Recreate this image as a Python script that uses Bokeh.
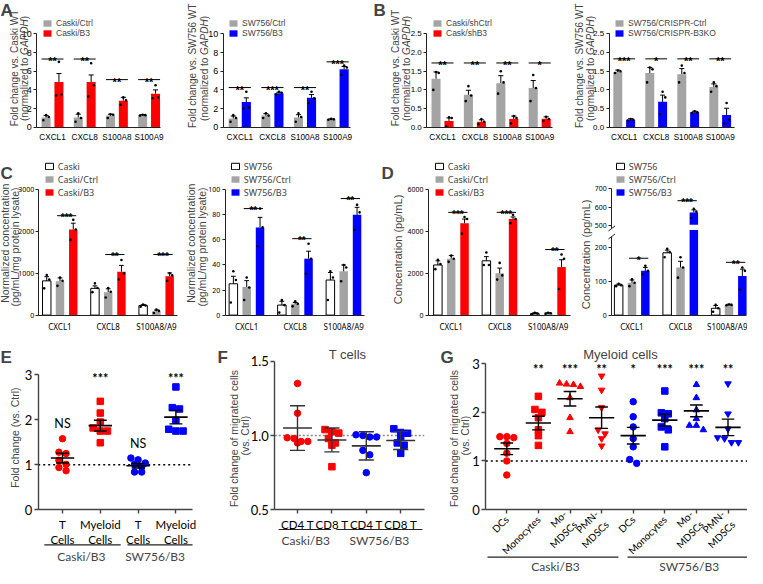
import math
import numpy as np
from bokeh.plotting import figure
from bokeh.layouts import row, column
from bokeh.models import FixedTicker, Label, Legend, LegendItem, Arrow, BoxAnnotation
from bokeh.embed import file_html
from bokeh.resources import INLINE
from bokeh.core.properties import value

# ======================= DATA =======================
A1_CATS = ["CXCL1", "CXCL8", "S100A8", "S100A9"]
A1_CTRL = [1.05, 1.05, 1.25, 1.30]
A1_CTRL_ERR = [0.20, 0.35, 0.15, 0.05]
A1_CTRL_PTS = [[0.75, 1.10, 1.30], [0.60, 1.00, 1.50], [1.00, 1.35, 1.40], [1.25, 1.30, 1.35]]
A1_B3 = [4.85, 4.85, 2.85, 3.60]
A1_B3_ERR = [0.90, 0.75, 0.35, 0.40]
A1_B3_PTS = [[3.40, 3.50, 7.00], [3.30, 4.50, 6.85], [2.40, 2.90, 3.20], [3.10, 3.20, 4.50]]
A1_SIG = ["**", "**", "**", "**"]
A1_SIG_Y = [7.3, 7.3, 5.1, 5.1]

A2_CTRL = [0.95, 1.25, 1.05, 0.85]
A2_CTRL_ERR = [0.25, 0.20, 0.30, 0.05]
A2_CTRL_PTS = [[0.60, 1.00, 1.30], [1.00, 1.25, 1.50], [0.60, 1.10, 1.50], [0.80, 0.85, 0.90]]
A2_B3 = [2.70, 3.65, 3.15, 6.20]
A2_B3_ERR = [0.45, 0.10, 0.35, 0.30]
A2_B3_PTS = [[2.00, 2.10, 3.80], [3.50, 3.70, 3.80], [2.60, 3.10, 3.80], [5.60, 6.40, 6.60]]
A2_SIG = ["**", "***", "**", "***"]
A2_SIG_Y = [4.25, 4.25, 4.25, 7.0]

B1_CTRL = [1.30, 0.87, 1.18, 1.05]
B1_CTRL_ERR = [0.18, 0.12, 0.20, 0.20]
B1_CTRL_PTS = [[1.00, 1.45, 1.48], [0.70, 0.85, 1.10], [0.90, 1.20, 1.50], [0.70, 1.05, 1.40]]
B1_SH = [0.17, 0.15, 0.22, 0.23]
B1_SH_ERR = [0.08, 0.05, 0.08, 0.05]
B1_SH_PTS = [[0.02, 0.25, 0.27], [0.08, 0.15, 0.22], [0.10, 0.25, 0.30], [0.17, 0.22, 0.28]]
B1_SIG = ["**", "**", "**", "*"]
B1_SIG_Y = [1.72, 1.72, 1.72, 1.72]

B2_CTRL = [1.48, 1.45, 1.42, 1.08]
B2_CTRL_ERR = [0.05, 0.15, 0.15, 0.08]
B2_CTRL_PTS = [[1.45, 1.50, 1.52], [1.20, 1.55, 1.60], [1.20, 1.45, 1.65], [0.95, 1.10, 1.20]]
B2_KO = [0.20, 0.68, 0.40, 0.33]
B2_KO_ERR = [0.03, 0.18, 0.03, 0.18]
B2_KO_PTS = [[0.18, 0.20, 0.22], [0.35, 0.80, 0.95], [0.38, 0.40, 0.43], [0.10, 0.20, 0.65]]
B2_SIG = ["***", "*", "**", "**"]
B2_SIG_Y = [1.83, 1.83, 1.83, 1.83]

CD_CATS = ["CXCL1", "CXCL8", "S100A8/A9"]

C1_WT = [820, 640, 230]
C1_WT_ERR = [100, 60, 20]
C1_WT_PTS = [[640, 850, 960], [550, 650, 760], [200, 230, 250]]
C1_CTRL = [810, 550, 90]
C1_CTRL_ERR = [80, 80, 30]
C1_CTRL_PTS = [[700, 820, 900], [420, 560, 650], [50, 100, 130]]
C1_B3 = [2050, 1040, 930]
C1_B3_ERR = [150, 150, 80]
C1_B3_PTS = [[1800, 2050, 2280], [850, 1000, 1320], [820, 950, 1000]]
C1_SIG = ["***", "**", "***"]
C1_SIG_Y = [2380, 1450, 1450]

C2_WT = [25, 8, 28]
C2_WT_ERR = [6, 3, 6]
C2_WT_PTS = [[10, 28, 35], [2, 8, 12], [12, 30, 35]]
C2_CTRL = [22.5, 9, 35]
C2_CTRL_ERR = [5, 1, 5]
C2_CTRL_PTS = [[12, 22, 30], [7, 9, 11], [27, 38, 40]]
C2_B3 = [70, 45, 80]
C2_B3_ERR = [8, 6, 6]
C2_B3_PTS = [[55, 70, 85], [33, 45, 57], [68, 82, 88]]
C2_SIG = ["**", "**", "**"]
C2_SIG_Y = [85, 61, 93]

D1_WT = [2400, 2600, 80]
D1_WT_ERR = [200, 200, 30]
D1_WT_PTS = [[2200, 2450, 2650], [2400, 2400, 3000], [50, 80, 110]]
D1_CTRL = [2700, 2000, 90]
D1_CTRL_ERR = [150, 250, 20]
D1_CTRL_PTS = [[2550, 2700, 2850], [1700, 1900, 2500], [70, 90, 110]]
D1_B3 = [4400, 4600, 2300]
D1_B3_ERR = [200, 100, 350]
D1_B3_PTS = [[3900, 4600, 4700], [4400, 4600, 4800], [1250, 2700, 2900]]
D1_SIG = ["***", "***", "**"]
D1_SIG_Y = [4920, 4920, 3140]

D2_WT = [88, 183, 20]
D2_WT_ERR = [3, 8, 8]
D2_WT_PTS = [[85, 88, 92], [170, 185, 195], [10, 20, 30]]
D2_CTRL = [95, 140, 30]
D2_CTRL_ERR = [8, 18, 2]
D2_CTRL_PTS = [[85, 95, 105], [110, 140, 170], [29, 30, 31]]
D2_B3 = [130, 570, 115]
D2_B3_ERR = [10, 15, 20]
D2_B3_PTS = [[120, 130, 145], [540, 575, 590], [75, 130, 140]]
D2_SIG = ["*", "***", "**"]
D2_SIG_Y = [167, 635, 155]
D2_TICKS = [0, 100, 200, 500, 600, 700]

E_CATS = ["T\nCells", "Myeloid\nCells", "T\nCells", "Myeloid\nCells"]
E_PTS = [[1.58, 1.28, 1.25, 1.10, 1.01, 0.94, 0.87],
         [2.41, 2.15, 1.95, 1.82, 1.75, 1.75, 1.49],
         [1.15, 1.11, 1.04, 1.01, 0.95, 0.84, 0.84],
         [2.73, 2.27, 2.24, 1.99, 1.79, 1.75, 1.75]]
E_MEAN = [1.15, 1.87, 0.98, 2.06]
E_ERR = [0.11, 0.12, 0.05, 0.15]
E_SIG = ["NS", "***", "NS", "***"]
E_SIG_Y = [1.91, 2.91, 1.47, 2.91]
E_GROUPS = ["Caski/B3", "SW756/B3"]

F_CATS = ["CD4 T", "CD8 T", "CD4 T", "CD8 T"]
F_PTS = [[1.35, 1.15, 0.985, 0.98, 0.96, 0.96, 0.95],
         [1.04, 1.025, 1.016, 0.98, 0.95, 0.935, 0.79],
         [1.005, 1.0, 0.99, 0.99, 0.90, 0.87, 0.75],
         [1.045, 1.02, 1.015, 0.99, 0.95, 0.935, 0.88]]
F_MEAN = [1.05, 0.97, 0.93, 0.966]
F_ERR = [0.15, 0.08, 0.095, 0.06]
F_GROUPS = ["Caski/B3", "SW756/B3"]
F_TICKS = [0.5, 1.0, 1.5]
F_TICK_LABELS = ["0.5", "1.0", "1.5"]

G_CATS = ["DCs", "Monocytes", "Mo-\nMDSCs", "PMN-\nMDSCs", "DCs", "Monocytes", "Mo-\nMDSCs", "PMN-\nMDSCs"]
G_PTS = [[1.50, 1.50, 1.48, 1.36, 1.16, 1.00, 0.71],
         [2.33, 2.06, 2.00, 1.89, 1.64, 1.52, 1.32],
         [2.60, 2.58, 2.57, 2.53, 2.30, 1.89, 1.60],
         [2.75, 2.46, 2.10, 1.64, 1.56, 1.46, 1.31],
         [2.22, 1.91, 1.70, 1.46, 1.29, 1.03, 0.95],
         [2.44, 1.99, 1.97, 1.87, 1.70, 1.64, 1.29],
         [2.57, 2.30, 2.05, 1.87, 1.73, 1.73, 1.64],
         [2.59, 1.97, 1.66, 1.48, 1.46, 1.38, 1.38]]
G_MEAN = [1.25, 1.78, 2.28, 1.89, 1.52, 1.84, 2.03, 1.69]
G_ERR = [0.12, 0.14, 0.15, 0.22, 0.17, 0.12, 0.12, 0.17]
G_SIG = ["", "**", "***", "**", "*", "***", "***", "**"]
G_SIG_Y = [2.88] * 8
G_GROUPS = ["Caski/B3", "SW756/B3"]

# ======================= STYLE / GEOMETRY =======================
GRAY = "#a4a4a4"
RED = "#ff0000"
BLUE = "#0000ff"
ARIAL = "Liberation Sans"
CAL = "Lato"
MYR = "Noto Sans"

# Arial advance widths (1/1000 em) for the characters used in composed labels
AW = {" ": 278, "(": 333, ")": 333, "a": 556, "d": 556, "e": 556, "i": 222, "l": 222,
      "m": 833, "n": 556, "o": 556, "r": 333, "t": 278, "z": 500, "G": 778, "A": 667,
      "P": 667, "D": 722, "H": 722}


def text_w(s, size):
    return sum(AW.get(c, 556) for c in s) * size / 1000.0


def geo(left, top, right, bottom, c0, s, y0r, y0v, pxu, axis_x, x_end, ymax):
    return dict(left=left, top=top, right=right, bottom=bottom, c0=c0, s=s, y0r=y0r,
                y0v=y0v, pxu=pxu, axis_x=axis_x, x_end=x_end, ymax=ymax)


def DX(g, rx):
    return (rx - g["c0"]) / g["s"]


def DY(g, ry):
    return g["y0v"] + (g["y0r"] - ry) / g["pxu"]


def make_fig(g):
    p = figure(width=g["right"] - g["left"], height=g["bottom"] - g["top"],
               x_range=(DX(g, g["left"]), DX(g, g["right"])),
               y_range=(DY(g, g["bottom"]), DY(g, g["top"])),
               output_backend="svg", toolbar_location=None, title_location=None,
               min_border_left=0, min_border_right=0, min_border_top=0, min_border_bottom=0)
    p.xgrid.visible = False
    p.ygrid.visible = False
    p.outline_line_color = None
    p.yaxis.fixed_location = DX(g, g["axis_x"])
    p.xaxis.fixed_location = g["y0v"]
    p.yaxis.bounds = (g["y0v"], g["ymax"])
    p.xaxis.bounds = (DX(g, g["axis_x"]), DX(g, g["x_end"]))
    return p


def style_axes(p, color, lw, tfont, tsize, tick_out=3):
    for ax in (p.xaxis[0], p.yaxis[0]):
        ax.axis_line_color = color
        ax.axis_line_width = lw
        ax.major_tick_line_color = color
        ax.major_tick_line_width = lw
        ax.minor_tick_line_color = None
        ax.major_tick_in = 0
        ax.major_tick_out = tick_out
        ax.major_label_text_font = tfont
        ax.major_label_text_font_size = tsize
        ax.major_label_text_color = "black"
        ax.major_label_standoff = 2


def letter(p, g, txt, rx, ry):
    p.add_layout(Label(x=DX(g, rx), y=DY(g, ry), text=txt, text_font=ARIAL, text_font_size="17px",
                       text_font_style="bold", text_baseline="top", text_align="left"))


def ylab(p, g, parts, rx, ry_center, size):
    """Vertical axis title line made of (text, style) parts, centred on page y ry_center."""
    total = sum(text_w(t, size) for t, _ in parts)
    start = ry_center + total / 2.0
    for t, style in parts:
        p.add_layout(Label(x=DX(g, rx), y=DY(g, start), text=t, angle=math.pi / 2,
                           text_align="left", text_baseline="middle", text_font=ARIAL,
                           text_font_size="%spx" % size, text_font_style=style))
        start -= text_w(t, size)


def gapdh_labels(p, g, first, x1, x2, yc, size=10):
    ylab(p, g, [(first, "normal")], x1, yc, size)
    ylab(p, g, [("(normalized to ", "normal"), ("GAPDH", "italic"), (")", "normal")], x2, yc, size)


DOT_JIT = [-0.3, 0.3, 0.0]


def bar_panel(g, cats, series, offs, bw, yticks, sig, leg_box, leg_cfg,
              xfont, xsize, tfont, tsize, star_size, ext, ytf=None,
              ytick_labels=None, split=None):
    f = ytf or (lambda v: v)
    p = make_fig(g)
    rends = []
    for j, s in enumerate(series):
        xs = [i + offs[j] for i in range(len(cats))]
        tops = [f(v) for v in s["vals"]]
        L, R, B, T = [], [], [], []
        for x, t in zip(xs, tops):
            if split is not None and t > split[1]:
                L += [x - bw / 2] * 2
                R += [x + bw / 2] * 2
                B += [0, split[1]]
                T += [split[0], t]
            else:
                L.append(x - bw / 2)
                R.append(x + bw / 2)
                B.append(0)
                T.append(t)
        r = p.quad(left=L, right=R, bottom=B, top=T, fill_color=s["fill"],
                   line_color=s["line"], line_width=1)
        rends.append(r)
        etop = [f(v + e) for v, e in zip(s["vals"], s["errs"])]
        p.segment(x0=xs, y0=tops, x1=xs, y1=etop, line_color="black", line_width=1)
        p.segment(x0=[x - bw * 0.28 for x in xs], y0=etop, x1=[x + bw * 0.28 for x in xs],
                  y1=etop, line_color="black", line_width=1)
        px, py = [], []
        for i, pts in enumerate(s["pts"]):
            for k, v in enumerate(pts):
                px.append(xs[i] + DOT_JIT[k] * bw)
                py.append(f(v))
        p.scatter(px, py, size=2.6, color="black", line_color=None)
    sx0, sx1, sy, tx, ttxt = [], [], [], [], []
    for (i, a, b, yv, txt) in sig:
        x0 = i + offs[a] - bw * ext
        x1 = i + offs[b] + bw * ext
        sx0.append(x0)
        sx1.append(x1)
        sy.append(f(yv))
        tx.append((x0 + x1) / 2)
        ttxt.append(txt)
    p.segment(x0=sx0, y0=sy, x1=sx1, y1=sy, line_color="black", line_width=1)
    p.text(x=tx, y=sy, text=ttxt, text_align="center", text_baseline="alphabetic",
           text_font=value(ARIAL), text_font_size=value(star_size), text_font_style="bold",
           y_offset=2, text_color="black")
    p.xaxis.ticker = FixedTicker(ticks=list(range(len(cats))))
    p.xaxis.major_label_overrides = {i: c for i, c in enumerate(cats)}
    p.yaxis.ticker = FixedTicker(ticks=[f(v) for v in yticks])
    if ytick_labels is not None:
        p.yaxis.major_label_overrides = {f(v): l for v, l in zip(yticks, ytick_labels)}
    style_axes(p, "#222222", 1, tfont, tsize)
    p.xaxis.major_tick_line_color = None
    p.xaxis.major_label_text_font = xfont
    p.xaxis.major_label_text_font_size = xsize
    p.xaxis.major_label_standoff = 3
    pitch, gh, lf, ls = leg_cfg
    n = len(series)
    leg_top = leg_box[1] - (pitch - gh) / 2
    leg_bottom = leg_top + n * pitch
    leg = Legend(items=[LegendItem(label=value(s["name"]), renderers=[r]) for s, r in zip(series, rends)],
                 location=(leg_box[0] - g["left"], g["bottom"] - leg_bottom),
                 orientation="vertical", glyph_width=10, glyph_height=gh,
                 label_height=pitch, spacing=0, padding=0, margin=0, label_standoff=4,
                 border_line_color=None, background_fill_alpha=0,
                 label_text_font=lf, label_text_font_size=ls, label_text_baseline="middle")
    p.add_layout(leg)
    return p


def swarm(vals, tol, step):
    order = list(np.argsort(vals)[::-1])
    offs = [0.0] * len(vals)
    groups = []
    for i in order:
        if groups and abs(vals[groups[-1][0]] - vals[i]) < tol and len(groups[-1]) < 4:
            groups[-1].append(i)
        else:
            groups.append([i])
    for grp in groups:
        n = len(grp)
        for k, i in enumerate(grp):
            offs[i] = (k - (n - 1) / 2) * step
    return offs


def dot_panel(g, cats, pts, means, errs, markers, colors, yticks,
              tol, step, hw, cw, mean_color, ref_color, ref_dash, msize=6.5, ytick_labels=None):
    p = make_fig(g)
    p.segment(x0=[DX(g, g["axis_x"])], y0=[1], x1=[DX(g, g["x_end"])], y1=[1],
              line_color=ref_color, line_dash=ref_dash, line_width=1.5)
    for i, vals in enumerate(pts):
        o = swarm(vals, tol, step)
        p.scatter([i + d for d in o], vals, marker=markers[i], size=msize,
                  fill_color=colors[i], line_color=colors[i])
    xs = list(range(len(cats)))
    p.segment(x0=[x - hw for x in xs], y0=means, x1=[x + hw for x in xs], y1=means,
              line_color=mean_color, line_width=1.6)
    up = [m + e for m, e in zip(means, errs)]
    dn = [m - e for m, e in zip(means, errs)]
    p.segment(x0=xs, y0=dn, x1=xs, y1=up, line_color=mean_color, line_width=1.4)
    p.segment(x0=[x - cw for x in xs], y0=up, x1=[x + cw for x in xs], y1=up,
              line_color=mean_color, line_width=1.4)
    p.segment(x0=[x - cw for x in xs], y0=dn, x1=[x + cw for x in xs], y1=dn,
              line_color=mean_color, line_width=1.4)
    p.xaxis.ticker = FixedTicker(ticks=xs)
    p.xaxis.major_label_overrides = {i: c for i, c in enumerate(cats)}
    p.yaxis.ticker = FixedTicker(ticks=yticks)
    if ytick_labels is not None:
        p.yaxis.major_label_overrides = {v: l for v, l in zip(yticks, ytick_labels)}
    style_axes(p, "#444444", 1.4, CAL, "13px", tick_out=4)
    p.xaxis.major_label_text_font_size = "11.5px"
    p.xaxis.major_label_standoff = 4
    return p


def group_marks(p, g, spans, labels, line_ry, label_ry, size="12px"):
    ly = DY(g, line_ry)
    ty = DY(g, label_ry)
    for (x0, x1), (lab, cx) in zip(spans, labels):
        p.add_layout(Arrow(x_start=x0, y_start=ly, x_end=x1, y_end=ly, start=None, end=None,
                           line_color="#222222", line_width=1.2))
        p.add_layout(Label(x=cx, y=ty, text=lab, text_align="center", text_baseline="middle",
                           text_font=CAL, text_font_size=size))


def sig_list(ys, txts, a, b):
    return [(i, a, b, y, t) for i, (y, t) in enumerate(zip(ys, txts))]


# ======================= ROW 1 =======================
AB_OFFS = [-0.2, 0.2]
AB_BW = 0.28
LEG_AB = (10, 8, ARIAL, "8.5px")

G_A1 = geo(8, 0, 186, 150, 60.0, 32.2, 126.8, 0.0, 9.35, 44.3, 168.0, 10)
G_A2 = geo(186, 0, 380, 150, 247.3, 32.6, 126.8, 0.0, 9.35, 230.7, 358.0, 10)
G_B1 = geo(380, 0, 578, 150, 450.0, 32.4, 126.8, 0.0, 37.4, 434.3, 560.0, 2.5)
G_B2 = geo(578, 0, 755, 150, 631.7, 32.0, 126.8, 0.0, 37.4, 616.7, 741.7, 2.5)

a1 = bar_panel(G_A1, A1_CATS,
               [dict(name="Caski/Ctrl", vals=A1_CTRL, errs=A1_CTRL_ERR, pts=A1_CTRL_PTS, fill=GRAY, line=None),
                dict(name="Caski/B3", vals=A1_B3, errs=A1_B3_ERR, pts=A1_B3_PTS, fill=RED, line=None)],
               AB_OFFS, AB_BW, [0, 2, 4, 6, 8, 10],
               sig_list(A1_SIG_Y, A1_SIG, 0, 1), (50, 19.3), LEG_AB, ARIAL, "8.2px", ARIAL, "9px", "11px", 0.5)
gapdh_labels(a1, G_A1, "Fold change vs. Caski WT", 21.5, 32.0, 68)
letter(a1, G_A1, "A", 8, 0)

a2 = bar_panel(G_A2, A1_CATS,
               [dict(name="SW756/Ctrl", vals=A2_CTRL, errs=A2_CTRL_ERR, pts=A2_CTRL_PTS, fill=GRAY, line=None),
                dict(name="SW756/B3", vals=A2_B3, errs=A2_B3_ERR, pts=A2_B3_PTS, fill=BLUE, line=None)],
               AB_OFFS, AB_BW, [0, 2, 4, 6, 8, 10],
               sig_list(A2_SIG_Y, A2_SIG, 0, 1), (236, 19.3), LEG_AB, ARIAL, "8.2px", ARIAL, "9px", "11px", 0.5)
gapdh_labels(a2, G_A2, "Fold change vs. SW756 WT", 200.0, 212.0, 68)

B_TICKS = [0, 0.5, 1.0, 1.5, 2.0, 2.5]
B_TICK_LABELS = ["0.0", "0.5", "1.0", "1.5", "2.0", "2.5"]
b1 = bar_panel(G_B1, A1_CATS,
               [dict(name="Caski/shCtrl", vals=B1_CTRL, errs=B1_CTRL_ERR, pts=B1_CTRL_PTS, fill=GRAY, line=None),
                dict(name="Cask/shB3", vals=B1_SH, errs=B1_SH_ERR, pts=B1_SH_PTS, fill=RED, line=None)],
               AB_OFFS, AB_BW, B_TICKS,
               sig_list(B1_SIG_Y, B1_SIG, 0, 1), (440, 19.3), LEG_AB, ARIAL, "8.2px", ARIAL, "8px", "11px", 0.5,
               ytick_labels=B_TICK_LABELS)
gapdh_labels(b1, G_B1, "Fold change vs. Caski WT", 403.0, 414.0, 68)
letter(b1, G_B1, "B", 381, 0)

b2 = bar_panel(G_B2, A1_CATS,
               [dict(name="SW756/CRISPR-Ctrl", vals=B2_CTRL, errs=B2_CTRL_ERR, pts=B2_CTRL_PTS, fill=GRAY, line=None),
                dict(name="SW756/CRISPR-B3KO", vals=B2_KO, errs=B2_KO_ERR, pts=B2_KO_PTS, fill=BLUE, line=None)],
               AB_OFFS, AB_BW, B_TICKS,
               sig_list(B2_SIG_Y, B2_SIG, 0, 1), (622, 19.3), LEG_AB, ARIAL, "8.2px", ARIAL, "8px", "11px", 0.5,
               ytick_labels=B_TICK_LABELS)
gapdh_labels(b2, G_B2, "Fold change vs. SW756 WT", 586.5, 597.5, 68)

# ======================= ROW 2 =======================
CD_OFFS = [-0.275, 0.0, 0.275]
CD_BW = 0.175
LEG_CD = (11, 8, MYR, "9px")

G_C1 = geo(8, 150, 191, 335, 67.5, 48.2, 314.6, 0.0, 125.3 / 3000, 45.7, 185.0, 3000)
G_C2 = geo(191, 150, 388, 335, 254.2, 48.5, 314.6, 0.0, 125.3 / 100, 232.7, 372.0, 100)
G_D1 = geo(388, 150, 580, 335, 458.7, 48.5, 314.6, 0.0, 125.3 / 6000, 436.0, 578.0, 6000)

c1 = bar_panel(G_C1, CD_CATS,
               [dict(name="Caski", vals=C1_WT, errs=C1_WT_ERR, pts=C1_WT_PTS, fill="white", line="black"),
                dict(name="Caski/Ctrl", vals=C1_CTRL, errs=C1_CTRL_ERR, pts=C1_CTRL_PTS, fill=GRAY, line=None),
                dict(name="Caski/B3", vals=C1_B3, errs=C1_B3_ERR, pts=C1_B3_PTS, fill=RED, line=None)],
               CD_OFFS, CD_BW, [0, 1000, 2000, 3000],
               sig_list(C1_SIG_Y, C1_SIG, 1, 2), (51.7, 167.3), LEG_CD, MYR, "8px", MYR, "7px", "10px", 0.35)
c1.yaxis.major_label_standoff = 1
ylab(c1, G_C1, [("Normalized concentration", "normal")], 12.5, 243, 10.5)
ylab(c1, G_C1, [("(pg/mL/mg protein lysate)", "normal")], 22.5, 243, 10.5)
letter(c1, G_C1, "C", 8, 163)

c2 = bar_panel(G_C2, CD_CATS,
               [dict(name="SW756", vals=C2_WT, errs=C2_WT_ERR, pts=C2_WT_PTS, fill="white", line="black"),
                dict(name="SW756/Ctrl", vals=C2_CTRL, errs=C2_CTRL_ERR, pts=C2_CTRL_PTS, fill=GRAY, line=None),
                dict(name="SW756/B3", vals=C2_B3, errs=C2_B3_ERR, pts=C2_B3_PTS, fill=BLUE, line=None)],
               CD_OFFS, CD_BW, [0, 20, 40, 60, 80, 100],
               sig_list(C2_SIG_Y, C2_SIG, 1, 2), (237.7, 167.3), LEG_CD, MYR, "8px", MYR, "7px", "10px", 0.35)
ylab(c2, G_C2, [("Normalized concentration", "normal")], 198.0, 243, 10.5)
ylab(c2, G_C2, [("(pg/mL/mg protein lysate)", "normal")], 209.5, 243, 10.5)

d1 = bar_panel(G_D1, CD_CATS,
               [dict(name="Caski", vals=D1_WT, errs=D1_WT_ERR, pts=D1_WT_PTS, fill="white", line="black"),
                dict(name="Caski/Ctrl", vals=D1_CTRL, errs=D1_CTRL_ERR, pts=D1_CTRL_PTS, fill=GRAY, line=None),
                dict(name="Caski/B3", vals=D1_B3, errs=D1_B3_ERR, pts=D1_B3_PTS, fill=RED, line=None)],
               CD_OFFS, CD_BW, [0, 2000, 4000, 6000],
               sig_list(D1_SIG_Y, D1_SIG, 1, 2), (441.7, 167.3), LEG_CD, MYR, "8px", MYR, "7px", "10px", 0.35)
ylab(d1, G_D1, [("Concentration (pg/mL)", "normal")], 405.5, 248, 11)
letter(d1, G_D1, "D", 389, 163)

# broken axis for the right D panel (lower segment 0-200, upper 500-700)
BRK_GAP = 63.5
BRK_K = 0.537


def d2_tf(v):
    if v <= 200:
        return v
    return 200 + BRK_GAP + (v - 500) * BRK_K


G_D2 = geo(580, 150, 755, 335, 639.5, 48.5, 314.6, 0.0, 0.3405, 619.3, 754.0, d2_tf(700))
d2 = bar_panel(G_D2, CD_CATS,
               [dict(name="SW756", vals=D2_WT, errs=D2_WT_ERR, pts=D2_WT_PTS, fill="white", line="black"),
                dict(name="SW756/Ctrl", vals=D2_CTRL, errs=D2_CTRL_ERR, pts=D2_CTRL_PTS, fill=GRAY, line=None),
                dict(name="SW756/B3", vals=D2_B3, errs=D2_B3_ERR, pts=D2_B3_PTS, fill=BLUE, line=None)],
               CD_OFFS, CD_BW, D2_TICKS,
               sig_list(D2_SIG_Y, D2_SIG, 1, 2), (622.7, 167.3), LEG_CD, MYR, "8px", MYR, "7px", "10px", 0.35,
               ytf=d2_tf, ytick_labels=[str(t) for t in D2_TICKS], split=(250.0, 265.0))
ylab(d2, G_D2, [("Concentration (pg/mL)", "normal")], 593.0, 253, 11)
d2.add_layout(BoxAnnotation(left=DX(G_D2, 616), right=DX(G_D2, 623), bottom=DY(G_D2, 236),
                            top=DY(G_D2, 228), fill_color="white", fill_alpha=1, line_color=None,
                            level="overlay"))
for yy in (228, 236):
    d2.add_layout(Arrow(x_start=DX(G_D2, 616), y_start=DY(G_D2, yy + 2.5), x_end=DX(G_D2, 622.5),
                        y_end=DY(G_D2, yy - 2.5), start=None, end=None, line_color="#222222",
                        line_width=1, level="overlay"))

# ======================= ROW 3 =======================
G_E = geo(8, 335, 220, 584, 70.0, 37.8, 509.3, 0.0, 45.0, 45.7, 200.0, 3)
G_F = geo(220, 335, 444, 584, 305.0, 34.4, 509.3, 0.5, 148.6, 282.3, 431.7, 1.5)
G_G = geo(444, 335, 755, 584, 514.3, 31.6, 509.0, 0.0, 48.57, 493.3, 755.0, 3)

e = dot_panel(G_E, E_CATS, E_PTS, E_MEAN, E_ERR,
              ["circle", "square", "circle", "square"], [RED, RED, BLUE, BLUE], [0, 1, 2, 3],
              0.12, 0.19, 0.31, 0.17, "black", "black", "2 3")
e.text(x=list(range(4)), y=E_SIG_Y, text=E_SIG, text_align="center", text_baseline="middle",
       text_font=value(CAL), text_font_size=value("12.5px"),
       text_font_style=["normal", "bold", "normal", "bold"], text_color="black")
group_marks(e, G_E, [(-0.48, 1.54), (1.72, 3.44)], [(E_GROUPS[0], 0.5), (E_GROUPS[1], 2.45)], 544.3, 556.0)
ylab(e, G_E, [("Fold change (vs. Ctrl)", "normal")], 22.5, 436, 10.5)
letter(e, G_E, "E", 8, 347)

f = dot_panel(G_F, F_CATS, F_PTS, F_MEAN, F_ERR,
              ["circle", "square", "circle", "square"], [RED, RED, BLUE, BLUE], F_TICKS,
              0.035, 0.2, 0.42, 0.22, "#333333", "#888888", "2 2", ytick_labels=F_TICK_LABELS)
group_marks(f, G_F, [(-0.55, 0.97), (1.13, 3.63)], [(F_GROUPS[0], 0.24), (F_GROUPS[1], 2.38)], 529.0, 540.0)
ylab(f, G_F, [("Fold change of migrated cells", "normal")], 241.0, 436, 10.5)
ylab(f, G_F, [("(vs. Ctrl)", "normal")], 252.5, 434, 10.5)
letter(f, G_F, "F", 225, 347)
f.add_layout(Label(x=DX(G_F, 355), y=DY(G_F, 354), text="T cells", text_align="center",
                   text_baseline="middle", text_font=ARIAL, text_font_size="13px"))

g = dot_panel(G_G, G_CATS, G_PTS, G_MEAN, G_ERR,
              ["circle", "square", "triangle", "inverted_triangle"] * 2, [RED] * 4 + [BLUE] * 4,
              [0, 1, 2, 3], 0.11, 0.22, 0.4, 0.2, "black", "black", "2 3")
g.text(x=list(range(8)), y=G_SIG_Y, text=G_SIG, text_align="center", text_baseline="middle",
       text_font=value(CAL), text_font_size=value("12.5px"), text_font_style="bold", text_color="black")
g.xaxis.major_label_orientation = math.pi / 4
g.xaxis.major_label_text_font_size = "10px"
group_marks(g, G_G, [(-0.61, 3.53), (3.82, 7.6)], [(G_GROUPS[0], 1.54), (G_GROUPS[1], 5.77)], 556.7, 566.0)
ylab(g, G_G, [("Fold change of migrated cells", "normal")], 461.0, 436, 10.5)
ylab(g, G_G, [("(vs. Ctrl)", "normal")], 472.5, 434, 10.5)
letter(g, G_G, "G", 448, 347)
g.add_layout(Label(x=DX(G_G, 628), y=DY(G_G, 354), text="Myeloid cells", text_align="center",
                   text_baseline="middle", text_font=ARIAL, text_font_size="13px"))

layout = column(row(a1, a2, b1, b2), row(c1, c2, d1, d2), row(e, f, g))
open("out.html", "w").write(file_html(layout, INLINE))
